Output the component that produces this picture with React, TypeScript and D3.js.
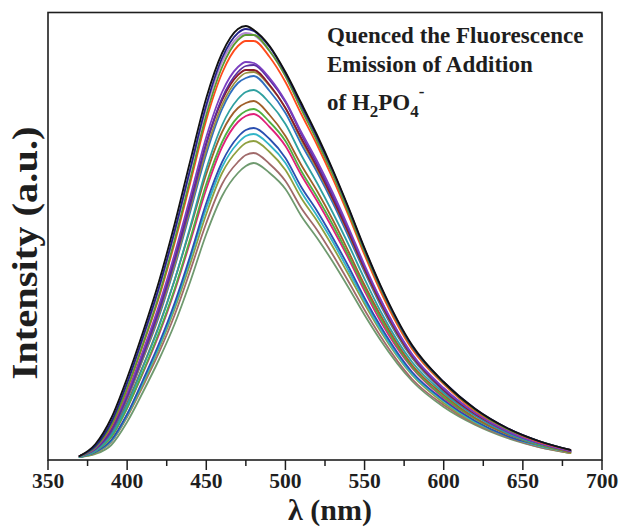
import React from "react";
import * as d3 from "d3";

// ---------- data ----------
const wavelengths = [370, 380, 390, 400, 410, 420, 430, 440, 450, 460, 470, 475, 480, 490, 500, 510, 520, 530, 540, 550, 560, 580, 600, 620, 640, 660, 680];

const curve01 = [4, 16, 42, 82, 128, 178, 236, 300, 362, 407, 431, 434, 430, 414, 388, 357, 325, 290, 252, 212, 175, 115, 78, 51, 32, 19, 10];
const curve02 = [4, 14, 38, 77, 123, 172, 229, 292, 355, 402, 427, 431, 429, 413, 387, 355, 323, 289, 251, 211, 174, 114, 78, 51, 32, 19, 10];
const curve03 = [4, 13, 35, 72, 116, 164, 220, 282, 345, 393, 420, 425, 425, 409, 384, 351, 319, 285, 247, 208, 172, 113, 77, 50, 31, 19, 10];
const curve04 = [4, 13, 34, 71, 115, 162, 217, 278, 340, 387, 414, 419, 419, 403, 378, 346, 315, 281, 244, 205, 169, 111, 76, 49, 31, 18, 10];
const curve05 = [4, 14, 38, 77, 121, 170, 227, 290, 352, 398, 423, 427, 425, 409, 384, 352, 320, 286, 248, 209, 173, 113, 77, 50, 32, 19, 10];
const curve06 = [4, 12, 33, 67, 109, 154, 206, 264, 323, 368, 393, 398, 397, 382, 359, 328, 299, 267, 232, 195, 161, 106, 72, 47, 29, 17, 9];
const curve07 = [4, 11, 29, 63, 104, 148, 199, 256, 316, 362, 388, 394, 395, 380, 358, 326, 296, 264, 230, 193, 160, 105, 71, 47, 29, 17, 9];
const curve08 = [4, 12, 32, 66, 107, 151, 202, 259, 317, 360, 385, 390, 390, 375, 352, 322, 293, 261, 227, 191, 158, 104, 70, 46, 29, 17, 9];
const curve09 = [4, 11, 29, 62, 102, 145, 195, 252, 310, 355, 381, 387, 388, 374, 352, 320, 291, 260, 226, 190, 157, 103, 70, 46, 29, 17, 9];
const curve10 = [4, 11, 28, 61, 101, 143, 193, 249, 306, 351, 377, 382, 384, 369, 347, 316, 288, 257, 223, 188, 155, 102, 69, 45, 28, 17, 9];
const curve11 = [3, 9, 25, 55, 93, 133, 180, 234, 291, 335, 361, 368, 370, 357, 336, 305, 277, 247, 215, 181, 149, 98, 67, 44, 27, 16, 9];
const curve12 = [3, 10, 27, 57, 94, 134, 180, 232, 286, 328, 352, 357, 359, 345, 324, 295, 269, 240, 208, 175, 145, 95, 65, 42, 26, 16, 8];
const curve13 = [3, 9, 23, 52, 88, 127, 171, 222, 276, 318, 343, 349, 351, 338, 319, 289, 263, 235, 204, 172, 142, 93, 63, 41, 26, 15, 8];
const curve14 = [3, 9, 23, 52, 87, 125, 169, 219, 271, 313, 338, 344, 346, 333, 314, 285, 259, 231, 201, 169, 139, 92, 62, 41, 26, 15, 8];
const curve15 = [3, 8, 20, 46, 80, 116, 157, 205, 257, 298, 323, 330, 332, 321, 302, 273, 249, 222, 193, 162, 134, 88, 60, 39, 24, 15, 8];
const curve16 = [3, 8, 19, 45, 78, 113, 154, 202, 252, 293, 317, 324, 326, 315, 297, 268, 244, 218, 189, 159, 131, 86, 59, 38, 24, 14, 8];
const curve17 = [3, 7, 19, 44, 76, 111, 151, 197, 246, 287, 310, 317, 319, 308, 290, 262, 239, 213, 185, 156, 129, 85, 57, 37, 24, 14, 7];
const curve18 = [3, 7, 18, 43, 74, 107, 145, 190, 237, 276, 298, 305, 307, 296, 279, 252, 230, 205, 178, 150, 124, 81, 55, 36, 23, 13, 7];
const curve19 = [3, 6, 15, 38, 68, 100, 136, 179, 226, 264, 287, 294, 297, 287, 271, 244, 222, 198, 172, 145, 120, 79, 53, 35, 22, 13, 7];

const seriesList = [curve01, curve02, curve03, curve04, curve05, curve06, curve07, curve08, curve09, curve10, curve11, curve12, curve13, curve14, curve15, curve16, curve17, curve18, curve19];

const seriesColors = ["#111111", "#23238a", "#5a9a30", "#ff4a1c", "#b48ad2", "#7b3fc0", "#5a2fa0", "#8b1a2b", "#9a9040", "#2f6fc0", "#2fa0a0", "#a0602a", "#4fb040", "#e0207a", "#2a4fb0", "#32b5c8", "#8fa040", "#a06a6a", "#6f9a6f"];

const xMajorTicks = [350, 400, 450, 500, 550, 600, 650, 700];
const xMinorTicks = [375, 425, 475, 525, 575, 625, 675];

const titleLines = ["Quenced the Fluorescence", "Emission of Addition"];

// ---------- component ----------
export default function App() {
  const W = 622;
  const H = 527;
  const left = 48, right = 602, top = 12.5, bottom = 460;

  const x = d3.scaleLinear().domain([350, 700]).range([left, right]);
  const y = d3.scaleLinear().domain([0, 447.5]).range([bottom, top]);

  const line = d3
    .line<number>()
    .x((_, i) => x(wavelengths[i]))
    .y((d) => y(d))
    .curve(d3.curveMonotoneX);

  const font = "'Liberation Serif', 'Times New Roman', serif";
  const ink = "#1e1e1e";

  const order = seriesList.map((_, i) => i).reverse();

  return (
    <svg
      width={W}
      height={H}
      style={{ position: "absolute", left: 0, top: 0, background: "#fff" }}
      fontFamily={font}
    >
      <rect x={0} y={0} width={W} height={H} fill="#fff" />
      {/* curves */}
      <g fill="none" strokeWidth={1.8} strokeLinejoin="round" strokeLinecap="round">
        {order.map((i) => (
          <path key={i} d={line(seriesList[i]) || ""} stroke={seriesColors[i]} />
        ))}
      </g>
      {/* frame */}
      <rect
        x={left}
        y={top}
        width={right - left}
        height={bottom - top}
        fill="none"
        stroke={ink}
        strokeWidth={1.6}
      />
      {/* ticks */}
      <g stroke={ink} strokeWidth={1.5}>
        {xMajorTicks.map((t) => (
          <line key={"M" + t} x1={x(t)} x2={x(t)} y1={bottom} y2={bottom + 10} />
        ))}
        {xMinorTicks.map((t) => (
          <line key={"m" + t} x1={x(t)} x2={x(t)} y1={bottom} y2={bottom + 6} />
        ))}
      </g>
      <g fontSize={21.5} fontWeight="bold" fill={ink} textAnchor="middle">
        {xMajorTicks.map((t) => (
          <text key={"l" + t} x={x(t)} y={488}>
            {t}
          </text>
        ))}
      </g>
      {/* axis titles */}
      <text
        x={(left + right) / 2 + 5}
        y={520}
        fontSize={30}
        fontWeight="bold"
        fill={ink}
        textAnchor="middle"
      >
        λ (nm)
      </text>
      <text
        transform={`translate(37,253) rotate(-90)`}
        fontSize={35}
        fontWeight="bold"
        fill={ink}
        textAnchor="middle"
        textLength={253}
        lengthAdjust="spacingAndGlyphs"
      >
        Intensity (a.u.)
      </text>
      {/* annotation */}
      <g fontSize={23} fontWeight="bold" fill={ink}>
        <text x={327} y={43}>{titleLines[0]}</text>
        <text x={327} y={72}>{titleLines[1]}</text>
        <text x={327} y={110}>
          of H
          <tspan fontSize={17} dy={7}>2</tspan>
          <tspan dy={-7}>PO</tspan>
          <tspan fontSize={17} dy={7}>4</tspan>
          <tspan fontSize={17} dy={-20}>-</tspan>
        </text>
      </g>
    </svg>
  );
}
